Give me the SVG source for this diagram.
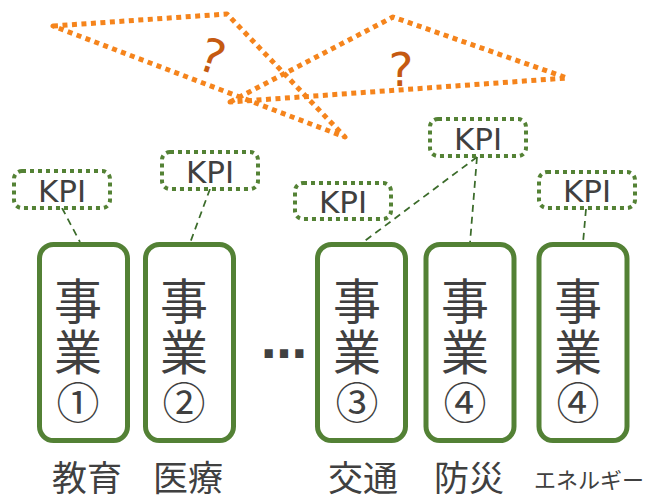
<svg xmlns="http://www.w3.org/2000/svg" width="645" height="498" viewBox="0 0 645 498">
<style>
.dot{fill:none;stroke:#F5841C;stroke-width:5;stroke-dasharray:5 4.5;stroke-linejoin:round}
.q{font-family:"DejaVu Sans",sans-serif;font-size:47px;fill:#C55A11;text-anchor:middle}
.kpi rect{fill:#fff;stroke:#548235;stroke-width:4;stroke-dasharray:4 4}
.kpi text{font-family:"DejaVu Sans",sans-serif;font-size:31px;fill:#404040;text-anchor:middle}
.biz rect{fill:#fff;stroke:#538135;stroke-width:5}
.biz text{font-family:"Noto Sans CJK JP",sans-serif;font-size:48px;fill:#404040;text-anchor:middle}
.biz text.n{font-size:43px}
.lbl{font-family:"Noto Sans CJK JP",sans-serif;font-size:35px;fill:#404040;text-anchor:middle}
.conn line{stroke:#3B6B2A;stroke-width:1.75;stroke-dasharray:7 5}
</style>
<g id="question">
<polygon class="dot" points="53,26 227,14 345,137"/>
<polygon class="dot" points="230,102 393,17 567,78"/>
<text class="q" x="212" y="73" transform="rotate(18 212 57)">?</text>
<text class="q" x="401" y="86">?</text>
</g>
<g id="connectors" class="conn">
<line x1="62" y1="208" x2="80" y2="242"/>
<line x1="210" y1="189" x2="190" y2="243"/>
<line x1="477" y1="157" x2="362" y2="243"/>
<line x1="477" y1="157" x2="470" y2="243"/>
<line x1="586" y1="209" x2="583" y2="243"/>
</g>
<g id="kpi1" class="kpi"><rect x="14" y="171" width="96" height="37" rx="8"/><text x="62" y="202">KPI</text></g>
<g id="kpi2" class="kpi"><rect x="162" y="152" width="96" height="37" rx="8"/><text x="210" y="183">KPI</text></g>
<g id="kpi3" class="kpi"><rect x="295" y="183" width="96" height="36" rx="8"/><text x="343" y="213">KPI</text></g>
<g id="kpi4" class="kpi"><rect x="430" y="119" width="96" height="37" rx="8"/><text x="478" y="150">KPI</text></g>
<g id="kpi5" class="kpi"><rect x="539" y="172" width="96" height="36" rx="8"/><text x="587" y="202">KPI</text></g>
<g id="biz1" class="biz"><rect x="39.5" y="244.5" width="88" height="196" rx="14"/>
<text x="78" y="319">事</text><text x="78" y="370">業</text><text class="n" x="78" y="419">①</text></g>
<g id="biz2" class="biz"><rect x="145.5" y="244.5" width="88" height="196" rx="14"/>
<text x="184" y="319">事</text><text x="184" y="370">業</text><text class="n" x="184" y="419">②</text></g>
<g id="biz3" class="biz"><rect x="317.5" y="244.5" width="88" height="196" rx="14"/>
<text x="357" y="319">事</text><text x="357" y="370">業</text><text class="n" x="357" y="419">③</text></g>
<g id="biz4" class="biz"><rect x="426" y="244.5" width="88" height="196" rx="14"/>
<text x="465" y="319">事</text><text x="465" y="370">業</text><text class="n" x="465" y="419">④</text></g>
<g id="biz5" class="biz"><rect x="539" y="244.5" width="88" height="196" rx="14"/>
<text x="578" y="319">事</text><text x="578" y="370">業</text><text class="n" x="578" y="419">④</text></g>
<text x="284" y="358" style="font-family:'DejaVu Sans',sans-serif;font-weight:bold;font-size:46px;fill:#404040;text-anchor:middle">…</text>
<g id="labels">
<text class="lbl" x="87" y="491">教育</text>
<text class="lbl" x="188" y="491">医療</text>
<text class="lbl" x="363" y="491">交通</text>
<text class="lbl" x="469" y="491">防災</text>
<text class="lbl" x="589" y="488" style="font-size:22px">エネルギー</text>
</g>
</svg>
